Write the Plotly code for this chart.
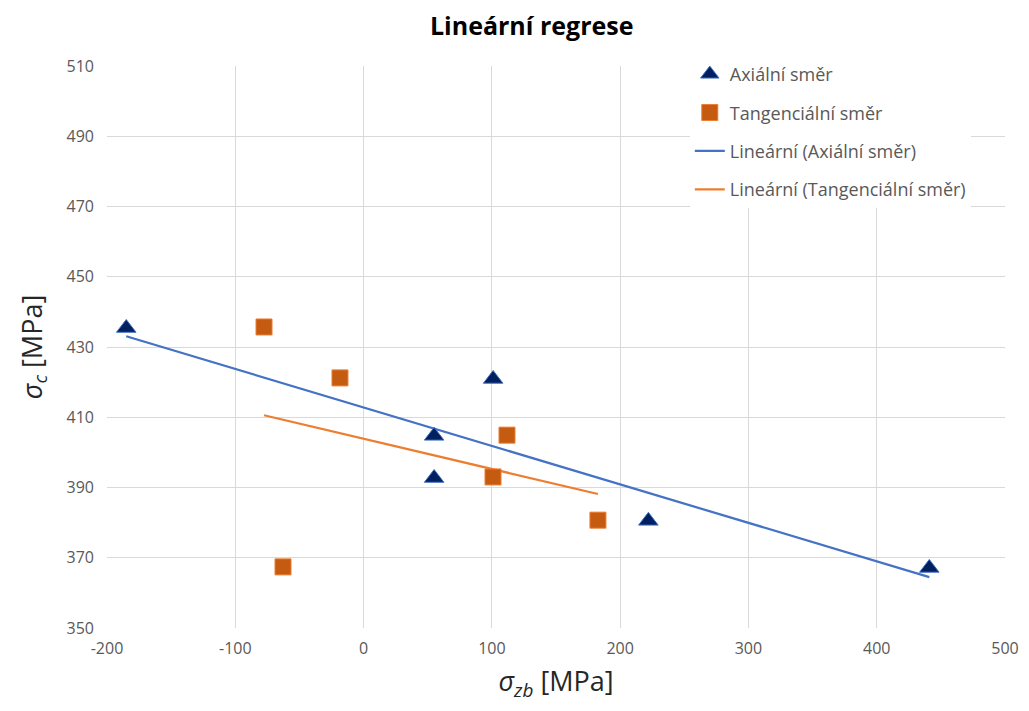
import numpy as np
import plotly.graph_objects as go

ax_x = [-185, 55, 55, 101, 222, 441]
ax_y = [435.4, 404.7, 392.7, 420.9, 380.5, 367.1]
tg_x = [-77.6, -18.4, -62.8, 111.8, 100.9, 182.7]
tg_y = [435.7, 421.2, 367.4, 404.9, 393.0, 380.7]
x_ticks = [-200, -100, 0, 100, 200, 300, 400, 500]
x_tick_labels = ["-200", "-100", "0", "100", "200", "300", "400", "500"]

def fit(x, y):
    k, q = np.polyfit(x, y, 1)
    xs = [min(x), max(x)]
    return xs, [k * v + q for v in xs]

fx_a, fy_a = fit(ax_x, ax_y)
fx_t, fy_t = fit(tg_x, tg_y)

fig = go.Figure()
fig.add_trace(go.Scatter(x=fx_a, y=fy_a, mode="lines", name="Lineární (Axiální směr)",
                         line=dict(color="#4472C4", width=2.25), legendgroup="c", legendrank=3))
fig.add_trace(go.Scatter(x=fx_t, y=fy_t, mode="lines", name="Lineární (Tangenciální směr)",
                         line=dict(color="#ED7D31", width=2.25), legendgroup="d", legendrank=4))
fig.add_trace(go.Scatter(x=ax_x, y=ax_y, mode="markers", name="Axiální směr",
                         marker=dict(symbol="triangle-up", size=17, color="#002060",
                                     line=dict(color="#4472C4", width=1)),
                         legendgroup="a", legendrank=1))
fig.add_trace(go.Scatter(x=tg_x, y=tg_y, mode="markers", name="Tangenciální směr",
                         marker=dict(symbol="square", size=16, color="#C55A11",
                                     line=dict(color="#ED7D31", width=1)),
                         legendgroup="b", legendrank=2))

fig.update_layout(
    width=1013, height=695,
    margin=dict(l=99, r=16, t=58, b=75, autoexpand=False),
    paper_bgcolor="white", plot_bgcolor="white",
    font=dict(family="Open Sans", color="#595959", size=16),
    title=dict(text="<b>Lineární regrese</b>", x=0.517, xanchor="center", y=0.974, yanchor="middle",
               font=dict(size=25, color="#000000", family="Open Sans")),
    legend=dict(x=0.649, y=1.018, xanchor="left", yanchor="top", bgcolor="white",
                font=dict(size=18, color="#595959"), tracegroupgap=12,
                traceorder="grouped"),
    showlegend=True,
)
fig.update_xaxes(range=[-200, 500], tickvals=x_ticks, ticktext=x_tick_labels,
                 showgrid=True, gridcolor="#D9D9D9", gridwidth=1,
                 zeroline=False, showline=False, ticks="", tickfont=dict(size=16, color="#595959"),
                 automargin=False, ticklabelstandoff=9,
                 title=dict(text="<i>σ<sub>zb</sub></i> [MPa]", font=dict(size=27, color="#262626"), standoff=17))
fig.update_yaxes(range=[350, 510], tick0=350, dtick=20, showgrid=True, gridcolor="#D9D9D9", gridwidth=1,
                 zeroline=False, showline=False, ticks="", tickfont=dict(size=16, color="#595959"),
                 automargin=False, ticklabelstandoff=12,
                 title=dict(text="<i>σ<sub>c</sub></i> [MPa]", font=dict(size=27, color="#262626"), standoff=16))

fig.write_html("out.html")
